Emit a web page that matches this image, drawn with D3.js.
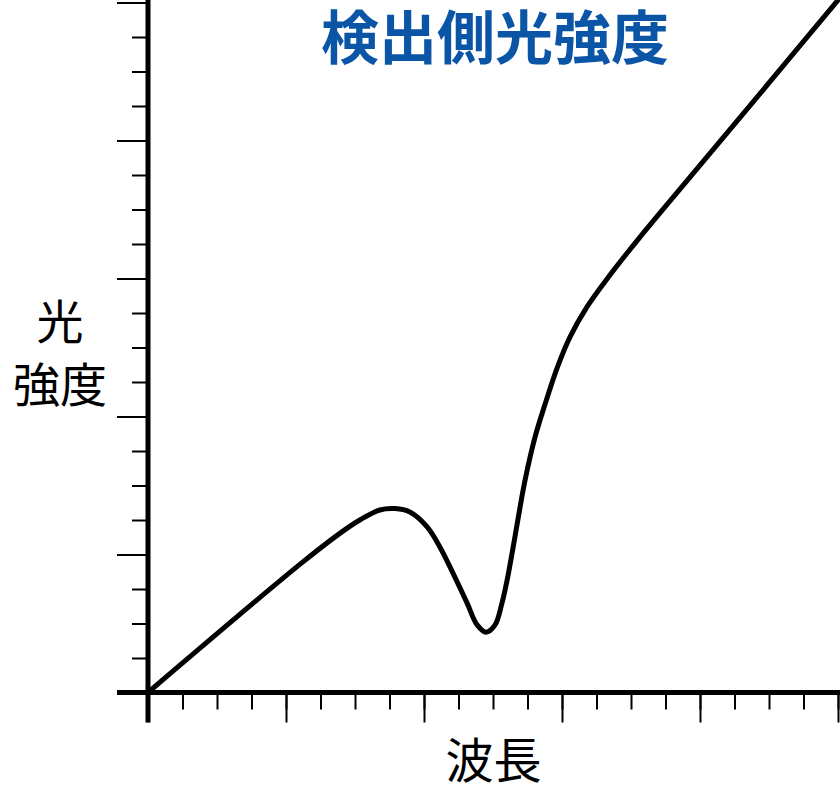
<!DOCTYPE html>
<html>
<head>
<meta charset="utf-8">
<script src="https://cdn.jsdelivr.net/npm/d3@7"></script>
<style>
  html, body { margin: 0; padding: 0; background: #fff; }
  svg { display: block; }
</style>
</head>
<body>
<svg id="chart" width="840" height="800"></svg>
<script>
// ---- data (arbitrary units) ----
const title = "検出側光強度";
const xLabel = "波長";
const yLabelLines = ["光", "強度"];
const wavelength = [0, 4.41, 5.57, 6.14, 6.72, 7.16, 7.59, 8.09, 8.46, 8.84, 9.25, 9.54, 9.80, 10.06, 10.26, 10.41, 10.58, 10.72, 10.93, 11.22, 11.51, 11.86, 12.23, 12.72, 13.39, 14.26, 15.62, 17.54, 20.0];
const intensity  = [0, 3.72, 4.62, 5.00, 5.29, 5.33, 5.23, 4.80, 4.22, 3.46, 2.59, 1.96, 1.75, 1.96, 2.59, 3.26, 4.19, 5.00, 6.16, 7.41, 8.36, 9.41, 10.30, 11.17, 12.10, 13.20, 14.83, 17.12, 20.07];
const minorTicks = d3.range(0, 21, 1);
const majorTicks = [0, 4, 8, 12, 16, 20];

// ---- layout ----
const svg = d3.select("#chart");
const x = d3.scaleLinear().domain([0, 20]).range([148, 838]);
const y = d3.scaleLinear().domain([0, 20]).range([692.5, 2.5]);

// ticks
function styleTicks(g) {
  g.select(".domain").remove();
  g.selectAll(".tick line").attr("stroke", "#000").attr("stroke-width", 2);
  g.selectAll(".tick text").remove();
}
svg.append("g").attr("transform", `translate(${x(0)},0)`)
  .call(d3.axisLeft(y).tickValues(minorTicks).tickSize(16)).call(styleTicks);
svg.append("g").attr("transform", `translate(${x(0)},0)`)
  .call(d3.axisLeft(y).tickValues(majorTicks).tickSize(31)).call(styleTicks);
svg.append("g").attr("transform", `translate(0,${y(0)})`)
  .call(d3.axisBottom(x).tickValues(minorTicks).tickSize(17)).call(styleTicks);
svg.append("g").attr("transform", `translate(0,${y(0)})`)
  .call(d3.axisBottom(x).tickValues(majorTicks).tickSize(30)).call(styleTicks);

// thick axis lines
svg.append("line")
  .attr("x1", x(0)).attr("x2", x(0))
  .attr("y1", 0).attr("y2", y(0) + 30)
  .attr("stroke", "#000").attr("stroke-width", 5);
svg.append("line")
  .attr("x1", x(0) - 31).attr("x2", 840)
  .attr("y1", y(0)).attr("y2", y(0))
  .attr("stroke", "#000").attr("stroke-width", 5);

// curve
const pts = wavelength.map((w, i) => [w, intensity[i]]);
const line = d3.line()
  .x(d => x(d[0])).y(d => y(d[1]))
  .curve(d3.curveCatmullRom.alpha(0.5));
svg.append("path")
  .datum(pts)
  .attr("d", line)
  .attr("fill", "none")
  .attr("stroke", "#000")
  .attr("stroke-width", 5)
  .attr("stroke-linejoin", "round")
  .attr("stroke-linecap", "round");

// texts
const cjk = "'Noto Sans CJK JP', 'Noto Sans CJK SC', sans-serif";
svg.append("text")
  .attr("x", 495).attr("y", 34)
  .attr("text-anchor", "middle").attr("dominant-baseline", "central")
  .attr("font-family", cjk).attr("font-weight", 700).attr("font-size", 58)
  .attr("fill", "#0B55A6")
  .text(title);

svg.append("text")
  .attr("x", 493.5).attr("y", 757)
  .attr("text-anchor", "middle").attr("dominant-baseline", "central")
  .attr("font-family", cjk).attr("font-size", 48)
  .attr("fill", "#000")
  .text(xLabel);

svg.selectAll("text.ylab")
  .data(yLabelLines)
  .enter().append("text")
  .attr("class", "ylab")
  .attr("x", 60).attr("y", (d, i) => 318 + i * 63)
  .attr("text-anchor", "middle").attr("dominant-baseline", "central")
  .attr("font-family", cjk).attr("font-size", 47)
  .attr("fill", "#000")
  .text(d => d);
</script>
</body>
</html>
